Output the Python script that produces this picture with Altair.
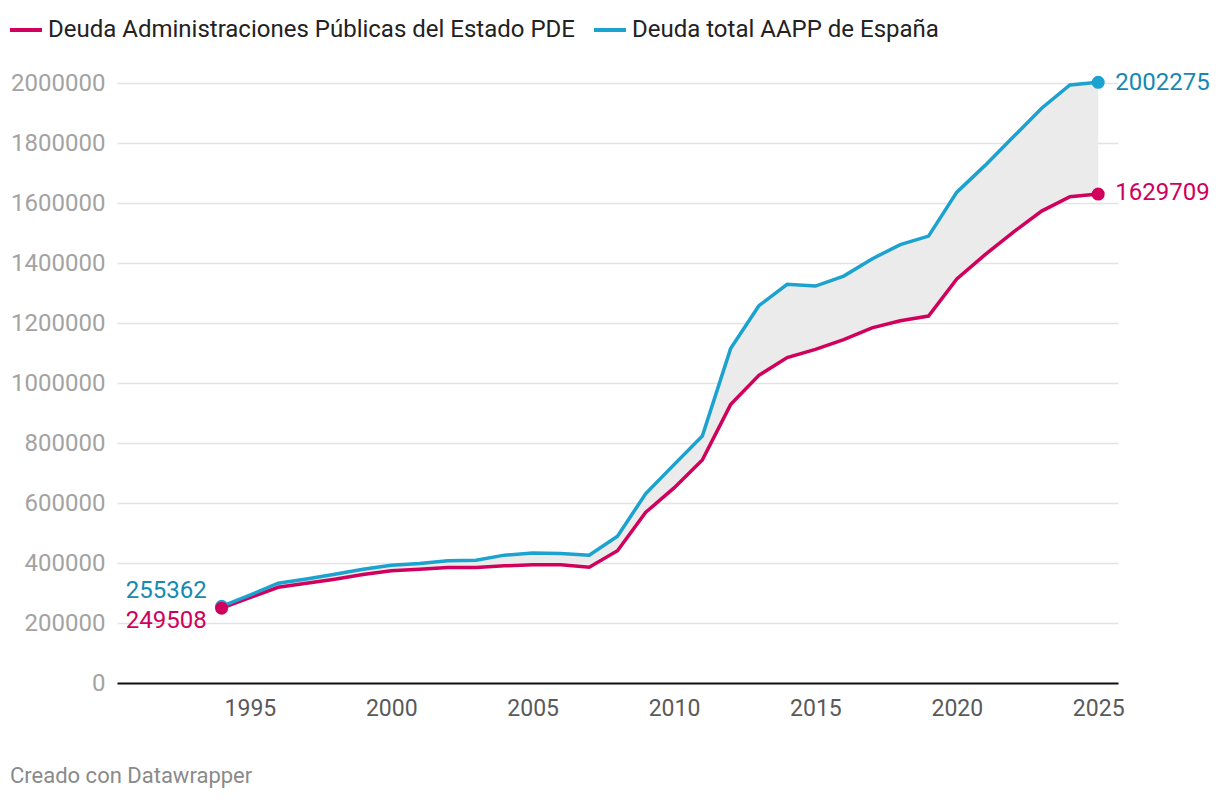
import altair as alt
import pandas as pd

years = [1994, 1995, 1996, 1997, 1998, 1999, 2000, 2001, 2002, 2003, 2004, 2005,
         2006, 2007, 2008, 2009, 2010, 2011, 2012, 2013, 2014, 2015, 2016, 2017,
         2018, 2019, 2020, 2021, 2022, 2023, 2024, 2025]
pde = [249508, 285000, 319000, 332500, 346000, 361500, 374000, 379400, 385000, 385000,
       390500, 394000, 394000, 386000, 441000, 569000, 650400, 743300, 928000, 1025400,
       1085000, 1112300, 1144600, 1183800, 1207600, 1223000, 1347000, 1428000, 1503000,
       1573000, 1620700, 1629709]
total = [255362, 293000, 332500, 347000, 362600, 379400, 392800, 398300, 407300, 409500,
         426200, 433000, 431800, 425800, 489500, 631500, 728000, 823000, 1114700, 1257600,
         1329000, 1323000, 1356400, 1413600, 1461200, 1489700, 1636300, 1725400, 1820700,
         1916000, 1993300, 2002275]
series = ["Deuda Administraciones Públicas del Estado PDE", "Deuda total AAPP de España"]
colors = ["#d1005d", "#1ba2cf"]
label_colors = ["#d1005d", "#1489b3"]
x_ticks = [1995, 2000, 2005, 2010, 2015, 2020, 2025]
y_ticks = [0, 200000, 400000, 600000, 800000, 1000000, 1200000, 1400000, 1600000, 1800000, 2000000]

wide = pd.DataFrame({"year": years, "pde": pde, "total": total})
long = pd.concat([
    pd.DataFrame({"year": years, "value": pde, "serie": series[0]}),
    pd.DataFrame({"year": years, "value": total, "serie": series[1]}),
])

FONT = "Roboto"

xscale = alt.Scale(domain=[1990.3, 2025.7], nice=False, zero=False)
yscale = alt.Scale(domain=[0, 2000000], nice=False)

x_axis = alt.Axis(values=x_ticks, format="d", grid=False, ticks=False,
                  labelFontSize=23, labelColor="#5a5a5a", labelPadding=14,
                  domainColor="#111111", domainWidth=2, labelFont=FONT,
                  labelFlush=False)
y_axis = alt.Axis(values=y_ticks, format="d", domain=False, ticks=False,
                  labelFontSize=24, labelColor="#a3a3a3", labelPadding=12,
                  gridColor="#e3e3e3", gridWidth=1.5, labelFont=FONT)

def xe(field="year:Q"):
    return alt.X(field, scale=xscale, title=None, axis=x_axis)

def ye(field="value:Q"):
    return alt.Y(field, scale=yscale, title=None, axis=y_axis)

area = alt.Chart(wide).mark_area(color="#ebebeb", opacity=1).encode(
    x=xe(),
    y=ye("total:Q"),
    y2="pde:Q",
)

color_scale = alt.Scale(domain=series, range=colors)

lines = alt.Chart(long).mark_line(strokeWidth=3.5).encode(
    x=xe(),
    y=ye(),
    color=alt.Color("serie:N", scale=color_scale, sort=series, title=None,
                    legend=alt.Legend(orient="none", legendX=-109, legendY=-71,
                                      direction="horizontal", symbolType="stroke",
                                      symbolStrokeWidth=4, symbolSize=1024,
                                      labelFontSize=24, labelColor="#222222",
                                      labelFont=FONT, columnPadding=11,
                                      labelLimit=1000, labelOffset=4)),
)

ends = long[long["year"].isin([years[0], years[-1]])]
ends_sorted = pd.concat([ends[ends["serie"] == series[1]], ends[ends["serie"] == series[0]]])

points = alt.Chart(ends_sorted).mark_circle(size=170, opacity=1).encode(
    x=xe(),
    y=ye(),
    color=alt.Color("serie:N", scale=color_scale, legend=None),
)

def label(df, color, align, dx, dy):
    return alt.Chart(df).mark_text(align=align, baseline="middle", dx=dx, dy=dy,
                                   fontSize=24, font=FONT, color=color).encode(
        x=xe(),
        y=ye(),
        text=alt.Text("value:Q", format="d"),
    )

first_total = wide[wide["year"] == years[0]][["year", "total"]].rename(columns={"total": "value"})
first_pde = wide[wide["year"] == years[0]][["year", "pde"]].rename(columns={"pde": "value"})
last_total = wide[wide["year"] == years[-1]][["year", "total"]].rename(columns={"total": "value"})
last_pde = wide[wide["year"] == years[-1]][["year", "pde"]].rename(columns={"pde": "value"})

labels = [
    label(first_total, label_colors[1], "right", -15, -15),
    label(first_pde, label_colors[0], "right", -15, 13),
    label(last_total, label_colors[1], "left", 17, 1),
    label(last_pde, label_colors[0], "left", 17, -1),
]

chart = alt.layer(area, lines, points, *labels).properties(
    width=1001, height=600,
    autosize=alt.AutoSizeParams(type="none"),
    padding={"left": 109, "top": 75, "right": 94, "bottom": 115},
    title=alt.TitleParams("Creado con Datawrapper", orient="bottom", anchor="start",
                          frame="group", dx=-107, offset=46, fontSize=22,
                          fontWeight="normal", color="#8a8a8a", font=FONT),
).configure(font=FONT).configure_view(stroke=None)

chart.save("out.html", embed_options={"renderer": "svg", "actions": False})
